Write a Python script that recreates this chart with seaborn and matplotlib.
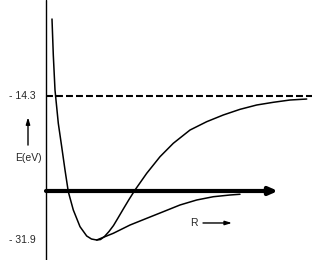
import matplotlib
matplotlib.use("Agg")
import matplotlib.pyplot as plt
import seaborn as sns
import pandas as pd

# potential energy curves (R in arbitrary units, E in eV)
r_upper = [0.30, 0.365, 0.45, 0.615, 0.785, 0.95, 1.115, 1.365, 1.70, 2.035, 2.275,
           2.535, 2.725, 2.925, 3.15, 3.375, 3.60, 3.865, 4.15, 4.45, 5.035, 5.70,
           6.365, 7.20, 8.035, 8.865, 9.70, 10.535, 11.365, 12.20, 13.035]
e_upper = [-4.89, -9.29, -13.57, -17.64, -20.50, -23.34, -26.0, -28.23, -30.27, -31.41,
           -31.78, -31.9, -31.84, -31.47, -30.86, -30.13, -29.21, -28.11, -26.95,
           -25.79, -23.75, -21.72, -20.08, -18.46, -17.44, -16.62, -15.93, -15.40,
           -15.07, -14.79, -14.67]

r_lower = [2.535, 3.365, 4.20, 5.035, 5.865, 6.70, 7.535, 8.365, 9.20, 9.70]
e_lower = [-31.9, -31.08, -30.07, -29.25, -28.44, -27.62, -27.01, -26.61, -26.40, -26.31]

e_levels = [-14.3, -31.9]
level_labels = ["- 14.3", "- 31.9"]
r_axis_level = -25.91
r_axis_end = 11.6
r_max = 13.3

sns.set_style("white")
plt.rcParams['font.family'] = ['Liberation Sans', 'DejaVu Sans']
plt.rcParams['lines.scale_dashes'] = False

fig = plt.figure(figsize=(3.15, 2.6), dpi=100)
ax = fig.add_axes([0, 0, 1, 1])

upper = pd.DataFrame({"R": r_upper, "E": e_upper})
lower = pd.DataFrame({"R": r_lower, "E": e_lower})
sns.lineplot(data=upper, x="R", y="E", ax=ax, color="black", lw=1.1, sort=False)
sns.lineplot(data=lower, x="R", y="E", ax=ax, color="black", lw=1.1, sort=False)

# dissociation level
ax.plot([0, r_max], [e_levels[0], e_levels[0]], color="black", lw=1.5, dashes=(5, 2.2))

# vertical energy axis
ax.axvline(0, color="black", lw=1.0)

# thick R axis with arrow
ax.annotate("", xy=(r_axis_end, r_axis_level), xytext=(0, r_axis_level),
            arrowprops=dict(arrowstyle="-|>,head_length=0.5,head_width=0.22",
                            color="black", lw=3, shrinkA=0, shrinkB=0))

for e, lab in zip(e_levels, level_labels):
    ax.text(-1.2, e, lab, ha="center", va="center", fontsize=7.5)

ax.text(-0.9, -21.9, "E(eV)", ha="center", va="center", fontsize=7.5)
ax.annotate("", xy=(-0.9, -16.9), xytext=(-0.9, -20.3),
            arrowprops=dict(arrowstyle="-|>,head_length=0.4,head_width=0.12",
                            color="black", lw=1.0, shrinkA=0, shrinkB=0))

ax.text(7.4, -29.82, "R", ha="center", va="center", fontsize=7.5)
ax.annotate("", xy=(9.3, -29.82), xytext=(7.85, -29.82),
            arrowprops=dict(arrowstyle="-|>,head_length=0.4,head_width=0.12",
                            color="black", lw=1.0, shrinkA=0, shrinkB=0))

ax.set_xlim(-2.3, 13.45)
ax.set_ylim(-34.344, -2.567)
ax.set_axis_off()

fig.savefig("out.png", dpi=100)
